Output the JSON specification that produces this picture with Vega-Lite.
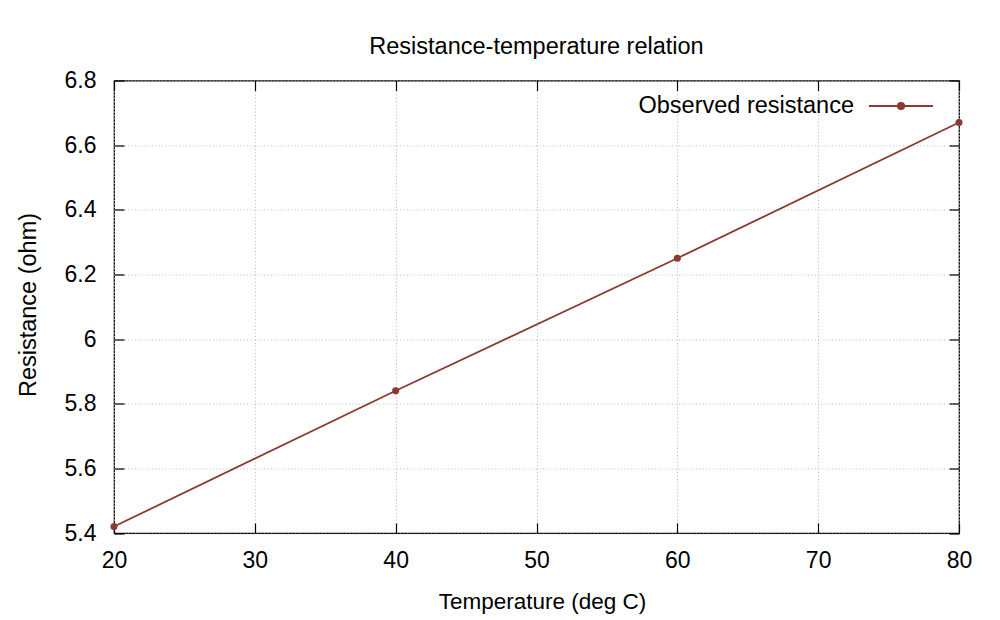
{
  "$schema": "https://vega.github.io/schema/vega-lite/v6.json",
  "autosize": "none",
  "width": 845,
  "height": 452.5,
  "padding": {"left": 114, "top": 80.5, "right": 41, "bottom": 87},
  "background": "white",
  "title": {
    "text": "Resistance-temperature relation",
    "font": "Liberation Sans",
    "fontSize": 23.5,
    "fontWeight": "normal",
    "color": "black",
    "anchor": "middle",
    "frame": "group",
    "baseline": "alphabetic",
    "offset": -7.5
  },
  "data": {
    "values": [
      {"temperature": 20, "resistance": 5.42, "series": "Observed resistance"},
      {"temperature": 40, "resistance": 5.84, "series": "Observed resistance"},
      {"temperature": 60, "resistance": 6.25, "series": "Observed resistance"},
      {"temperature": 80, "resistance": 6.67, "series": "Observed resistance"}
    ]
  },
  "config": {
    "view": {"stroke": "black", "strokeWidth": 1.2},
    "axis": {
      "domain": false,
      "tickColor": "black",
      "tickSize": -10,
      "tickWidth": 1.2,
      "labelFlush": false,
      "labelFont": "Liberation Sans",
      "labelFontSize": 23,
      "labelColor": "black",
      "titleFont": "Liberation Sans",
      "titleFontSize": 22.5,
      "titleFontWeight": "normal",
      "titleColor": "black",
      "gridColor": "#b8b8b8",
      "gridDash": [1, 2.4],
      "gridWidth": 1
    }
  },
  "encoding": {
    "x": {
      "field": "temperature",
      "type": "quantitative",
      "scale": {"domain": [20, 80], "nice": false, "zero": false}
    },
    "y": {
      "field": "resistance",
      "type": "quantitative",
      "scale": {"domain": [5.4, 6.8], "nice": false, "zero": false}
    },
    "color": {
      "field": "series",
      "type": "nominal",
      "scale": {"range": ["#8b3a2f"]},
      "legend": {
        "title": null,
        "orient": "none",
        "legendX": 754,
        "legendY": -7.5,
        "padding": 0,
        "symbolType": "M-1,0H1M-0.1,0A0.1,0.1 0 1,0 0.1,0A0.1,0.1 0 1,0 -0.1,0",
        "symbolSize": 4096,
        "symbolStrokeWidth": 1.8,
        "symbolFillColor": "#8b3a2f",
        "symbolStrokeColor": "#8b3a2f",
        "labelFont": "Liberation Sans",
        "labelFontSize": 23.5,
        "labelColor": "black",
        "labelAlign": "right",
        "labelOffset": -80,
        "labelLimit": 400
      }
    }
  },
  "layer": [
    {
      "mark": {"type": "line", "strokeWidth": 1.8},
      "encoding": {
        "x": {
          "field": "temperature",
          "type": "quantitative",
          "axis": {
            "orient": "bottom",
            "values": [20, 30, 40, 50, 60, 70, 80],
            "grid": true,
            "labelPadding": 26,
            "labelBaseline": "top",
            "title": "Temperature (deg C)",
            "titleX": 428,
            "titleY": 75,
            "titleAlign": "center",
            "titleBaseline": "alphabetic"
          }
        },
        "y": {
          "field": "resistance",
          "type": "quantitative",
          "axis": {
            "orient": "left",
            "values": [5.4, 5.6, 5.8, 6.0, 6.2, 6.4, 6.6, 6.8],
            "format": ".1~f",
            "grid": true,
            "labelPadding": 28,
            "title": "Resistance (ohm)",
            "titleFontSize": 23.5,
            "titleX": -79,
            "titleY": 224,
            "titleBaseline": "alphabetic"
          }
        }
      }
    },
    {
      "mark": {"type": "point", "filled": true, "size": 50, "opacity": 1},
      "encoding": {
        "x": {
          "field": "temperature",
          "type": "quantitative",
          "axis": {
            "orient": "top",
            "values": [20, 30, 40, 50, 60, 70, 80],
            "grid": false,
            "labels": false,
            "title": null
          }
        },
        "y": {
          "field": "resistance",
          "type": "quantitative",
          "axis": {
            "orient": "right",
            "values": [5.4, 5.6, 5.8, 6.0, 6.2, 6.4, 6.6, 6.8],
            "grid": false,
            "labels": false,
            "title": null
          }
        }
      }
    }
  ]
}
